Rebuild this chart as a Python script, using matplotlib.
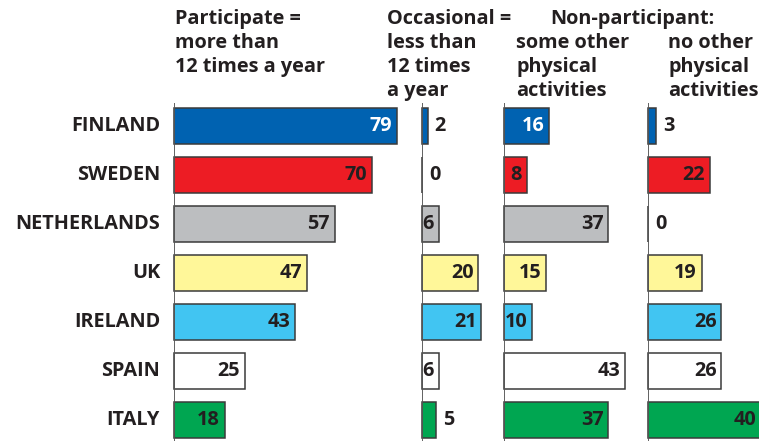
import matplotlib
matplotlib.use("Agg")
import matplotlib.pyplot as plt

countries = ["FINLAND", "SWEDEN", "NETHERLANDS", "UK", "IRELAND", "SPAIN", "ITALY"]
participate = [79, 70, 57, 47, 43, 25, 18]
occasional = [2, 0, 6, 20, 21, 6, 5]
some_other = [16, 8, 37, 15, 10, 43, 37]
no_other = [3, 22, 0, 19, 26, 26, 40]
colors = ["#0062b1", "#ed1c24", "#bcbec0", "#fff799", "#41c5f2", "#ffffff", "#00a651"]
text_colors = ["white", "#231f20", "#231f20", "#231f20", "#231f20", "#231f20", "#231f20"]
headers = [
    "Participate =\nmore than\n12 times a year",
    "Occasional =\nless than\n12 times\na year",
    "some other\nphysical\nactivities",
    "no other\nphysical\nactivities",
]
super_header = "Non-participant:"

W, H = 759, 441
fig = plt.figure(figsize=(W / 100, H / 100), dpi=100)
plt.rcParams['font.family'] = ['Open Sans', 'DejaVu Sans']
TXT = "#231f20"
FS = 14.3

scale = 2.823  # px per unit
panels = [(174, 422, participate), (422, 504, occasional), (504, 648, some_other), (648, 759, no_other)]
top_px = 103
row0 = 126
step = 49
ylo = (top_px - row0) / step
yhi = (H - row0) / step

axes = []
for left, right, vals in panels:
    ax = fig.add_axes([left / W, 0, (right - left) / W, 1 - top_px / H])
    ax.set_xlim(0, (right - left) / scale)
    ax.set_ylim(yhi, ylo)
    ax.barh(range(len(vals)), vals, height=36 / step, color=colors,
            edgecolor="#3a3a3a", linewidth=1.1, clip_on=False)
    for i, v in enumerate(vals):
        if v >= 6:
            ax.annotate(str(v), xy=(v, i), xytext=(-3.5, 0), textcoords="offset points",
                        ha="right", va="center", fontsize=FS, fontweight="bold",
                        color=text_colors[i], annotation_clip=False)
        else:
            ax.annotate(str(v), xy=(v, i), xytext=(5, 0), textcoords="offset points",
                        ha="left", va="center", fontsize=FS, fontweight="bold", color=TXT,
                        annotation_clip=False)
    ax.axvline(0, color="#555555", linewidth=1.3, zorder=5)
    for s in ax.spines.values():
        s.set_visible(False)
    ax.set_xticks([])
    ax.set_yticks([])
    ax.patch.set_alpha(0)
    axes.append(ax)

ax0 = axes[0]
for i, c in enumerate(countries):
    ax0.annotate(c, xy=(0, i), xytext=(-10, 0), textcoords="offset points",
                 ha="right", va="center", fontsize=FS, fontweight="bold", color=TXT,
                 annotation_clip=False)

lh = 24
def htext(x, y, s):
    fig.text(x / W, 1 - y / H, s, ha="left", va="center", fontsize=FS,
             fontweight="bold", color=TXT)

for j, line in enumerate(headers[0].split("\n")):
    htext(175, 19 + j * lh, line)
for j, line in enumerate(headers[1].split("\n")):
    htext(387, 19 + j * lh, line)
htext(550, 19, super_header)
for j, line in enumerate(headers[2].split("\n")):
    htext(516, 43 + j * lh, line)
for j, line in enumerate(headers[3].split("\n")):
    htext(668, 43 + j * lh, line)

fig.savefig("out.png", dpi=100)
